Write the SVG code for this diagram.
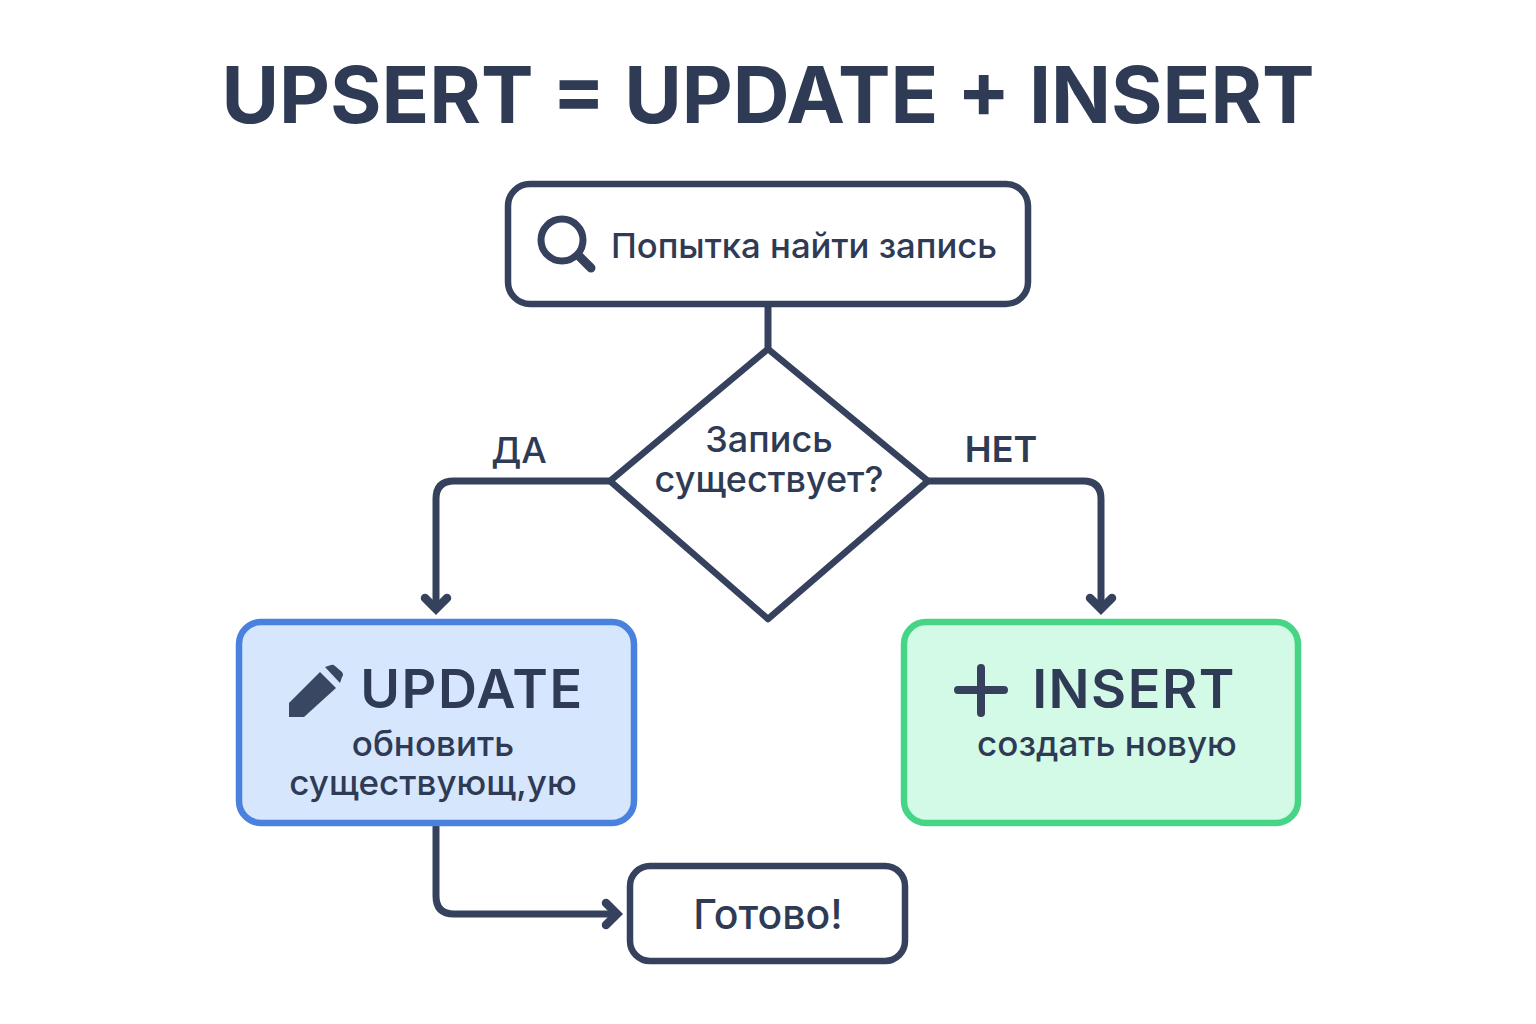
<svg xmlns="http://www.w3.org/2000/svg" width="1536" height="1024" viewBox="0 0 1536 1024">
<style>
text{font-family:"Inter","Liberation Sans",sans-serif;fill:#2f3b55;text-anchor:middle;font-weight:500}
.b{fill:#fff;stroke:#36425d;stroke-width:6.5}
.c{fill:none;stroke:#36425d;stroke-width:7;stroke-linecap:round;stroke-linejoin:round}
.a{fill:none;stroke:#36425d;stroke-width:8.5;stroke-linecap:round;stroke-linejoin:miter}
.l{font-size:36px}
.h{font-size:54px;font-weight:600;letter-spacing:1.5px}
.s{font-size:35px}
</style>
<rect width="1536" height="1024" fill="#fff"/>
<text id="title" x="768" y="123" font-size="78.7" style="font-weight:700;fill:#2f3b55">UPSERT = UPDATE + INSERT</text>
<g id="connectors">
<path class="c" d="M768 305V348"/>
<path class="c" d="M610 481H454Q436 481 436 499V606"/>
<path class="a" d="M425 598L436 609L447 598"/>
<path class="c" d="M928 481H1083Q1101 481 1101 499V606"/>
<path class="a" d="M1090 598L1101 609L1112 598"/>
<path class="c" d="M436 825V896Q436 914 454 914H612"/>
<path class="a" d="M606 903L617 914L606 925"/>
</g>
<g id="search">
<rect class="b" x="508" y="184" width="520" height="120" rx="22"/>
<circle class="c" cx="562" cy="240" r="21" style="stroke-width:7"/>
<path class="c" d="M579 256L591 268" style="stroke-width:9"/>
<text class="l" x="804" y="258" style="font-size:34.7px">Попытка найти запись</text>
</g>
<g id="decision">
<path class="b" d="M768 349L928 481L768 619L610 481Z" style="stroke-linejoin:round"/>
<text class="l" x="769" y="452">Запись</text>
<text class="l" x="769" y="492">существует?</text>
</g>
<text id="yes" class="l" x="519" y="463">ДА</text>
<text id="no" class="l" x="1001" y="462" style="font-weight:600">НЕТ</text>
<g id="update">
<rect x="239" y="622" width="395" height="201" rx="22" fill="#d6e6fd" stroke="#4a80de" stroke-width="6.5"/>
<path d="M289 703L320 672L336 688L304 717H289Z" fill="#3a4763"/>
<path d="M325 667L331 665Q333 664 335 666L342 672Q344 675 342 677L340 683Z" fill="#3a4763"/>
<text class="h" x="472" y="708">UPDATE</text>
<text class="s" x="433" y="756">обновить</text>
<text class="s" x="433" y="795">существующ,ую</text>
</g>
<g id="insert">
<rect x="904" y="622" width="394" height="201" rx="22" fill="#d3fae6" stroke="#46d585" stroke-width="6.5"/>
<path class="c" d="M981 668V713M958 690H1004" style="stroke-width:8"/>
<text class="h" x="1134" y="708">INSERT</text>
<text class="s" x="1107" y="756">создать новую</text>
</g>
<g id="done">
<rect class="b" x="630" y="866" width="275" height="95" rx="20"/>
<text class="l" x="768" y="929" style="font-size:41px">Готово!</text>
</g>
</svg>
